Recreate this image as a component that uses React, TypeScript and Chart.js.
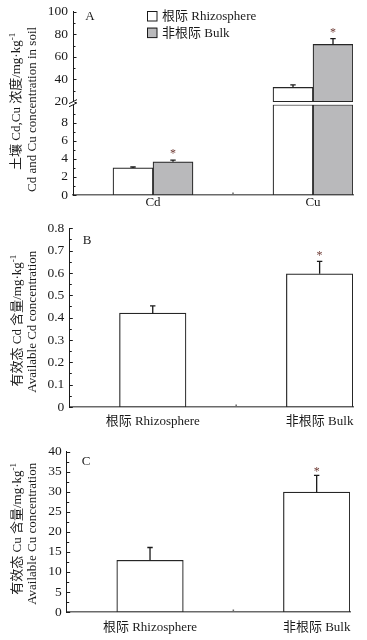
import React, { useEffect, useRef } from 'react';
import { Chart, registerables } from 'chart.js';

Chart.register(...registerables);

const FONT = '"Liberation Serif", "Noto Sans CJK SC", serif';
const INK = '#1a1a1a';
const AXIS_X = '#6a6a6a';
const RHIZO_FILL = '#ffffff';
const BULK_FILL = '#b9b9bb';
const BAR_EDGE = '#262626';
const STAR = '#6e3a34';

// ---------- Panel A: soil Cd, Cu concentration ----------
const groupsA = ['Cd', 'Cu'];
const seriesNames = ['根际 Rhizosphere', '非根际 Bulk'];
const rhizoA = [3.0, 32.8];
const rhizoErrA = [0.1, 2.2];
const rhizoSigA = [false, false];
const bulkA = [3.67, 71.0];
const bulkErrA = [0.2, 5.2];
const bulkSigA = [true, true];
const ticksALow = [0, 2, 4, 6, 8];
const minorALow = [1, 3, 5, 7, 9];
const ticksAHigh = [20, 40, 60, 80, 100];
const minorAHigh = [30, 50, 70, 90];
const breakLowMax = 10;
const breakHighStart = 20;
const titleA = ['土壤 Cd,Cu 浓度/mg·kg^{-1}', 'Cd and Cu concentration in soil'];

// ---------- Panel B: available Cd ----------
const categoriesB = ['根际 Rhizosphere', '非根际 Bulk'];
const availCd = [0.42, 0.596];
const availCdErr = [0.033, 0.056];
const availCdSig = [false, true];
const ticksB = [0, 0.1, 0.2, 0.3, 0.4, 0.5, 0.6, 0.7, 0.8];
const minorB = [0.05, 0.15, 0.25, 0.35, 0.45, 0.55, 0.65, 0.75];
const titleB = ['有效态 Cd 含量/mg·kg^{-1}', 'Available Cd concentration'];

// ---------- Panel C: available Cu ----------
const categoriesC = ['根际 Rhizosphere', '非根际 Bulk'];
const availCu = [12.9, 29.9];
const availCuErr = [3.2, 4.2];
const availCuSig = [false, true];
const ticksC = [0, 5, 10, 15, 20, 25, 30, 35, 40];
const minorC = [2.5, 7.5, 12.5, 17.5, 22.5, 27.5, 32.5, 37.5];
const titleC = ['有效态 Cu 含量/mg·kg^{-1}', 'Available Cu concentration'];

const font = (size: number) => ({ family: FONT, size, lineHeight: 1 });

// error bars (upper half only) + significance stars
const errorPlugin = {
  id: 'errs',
  afterDatasetsDraw(chart: any, _args: any, opts: any) {
    const ctx = chart.ctx;
    chart.data.datasets.forEach((ds: any, di: number) => {
      if (!ds.tops) return;
      const meta = chart.getDatasetMeta(di);
      const ys = chart.scales[meta.yAxisID];
      meta.data.forEach((el: any, i: number) => {
        const v = ds.tops[i];
        const d = ds.data[i];
        if (v == null || d == null || d.y == null) return;
        if (v > ys.max || v < ys.min) return;
        const x = el.x;
        const y0 = ys.getPixelForValue(v);
        const y1 = ys.getPixelForValue(v + ds.errs[i]);
        ctx.save();
        ctx.strokeStyle = INK;
        ctx.lineWidth = 1.3;
        ctx.beginPath();
        ctx.moveTo(x, y0);
        ctx.lineTo(x, y1);
        ctx.moveTo(x - 2.7, y1);
        ctx.lineTo(x + 2.7, y1);
        ctx.stroke();
        if (ds.sig && ds.sig[i]) {
          ctx.fillStyle = STAR;
          ctx.font = `12px ${FONT}`;
          ctx.textAlign = 'center';
          ctx.textBaseline = 'alphabetic';
          ctx.fillText('*', x, y1 - (opts.starGap ?? 2));
        }
        ctx.restore();
      });
    });
  },
};

function drawRich(ctx: CanvasRenderingContext2D, text: string, size: number) {
  const parts: { t: string; sup: boolean }[] = [];
  const re = /\^\{([^}]*)\}/g;
  let last = 0;
  let m: RegExpExecArray | null;
  while ((m = re.exec(text))) {
    if (m.index > last) parts.push({ t: text.slice(last, m.index), sup: false });
    parts.push({ t: m[1], sup: true });
    last = m.index + m[0].length;
  }
  if (last < text.length) parts.push({ t: text.slice(last), sup: false });
  const supSize = Math.round(size * 0.7);
  let total = 0;
  const widths = parts.map((p) => {
    ctx.font = `${p.sup ? supSize : size}px ${FONT}`;
    const w = ctx.measureText(p.t).width;
    total += w;
    return w;
  });
  let x = -total / 2;
  parts.forEach((p, i) => {
    ctx.font = `${p.sup ? supSize : size}px ${FONT}`;
    ctx.fillText(p.t, x, p.sup ? -size * 0.35 : 0);
    x += widths[i];
  });
}

const decorPlugin = {
  id: 'decor',
  afterDraw(chart: any, _args: any, o: any) {
    const ctx = chart.ctx;
    const area = chart.chartArea;
    ctx.save();
    ctx.strokeStyle = INK;
    ctx.lineWidth = 1;
    // inward y ticks
    (o.yTicks || []).forEach((t: any) => {
      const s = chart.scales[t.id];
      const x = s.right;
      ctx.beginPath();
      t.major.forEach((v: number) => {
        const y = Math.round(s.getPixelForValue(v)) + 0.5;
        ctx.moveTo(x, y);
        ctx.lineTo(x + 3.5, y);
      });
      t.minor.forEach((v: number) => {
        const y = Math.round(s.getPixelForValue(v)) + 0.5;
        ctx.moveTo(x, y);
        ctx.lineTo(x + 2.5, y);
      });
      ctx.stroke();
    });
    // small x marks
    if (o.xMarks) {
      const xs = chart.scales.x;
      ctx.strokeStyle = AXIS_X;
      ctx.lineWidth = 1.5;
      ctx.beginPath();
      o.xMarks.forEach((v: number) => {
        const x = xs.getPixelForValue(v);
        ctx.moveTo(x, area.bottom);
        ctx.lineTo(x, area.bottom - 2.5);
      });
      ctx.stroke();
    }
    // axis break
    if (o.breakAxes) {
      const lo = chart.scales[o.breakAxes.low];
      const hi = chart.scales[o.breakAxes.high];
      const x = lo.right;
      const y = (lo.top + hi.getPixelForValue(o.breakAxes.at)) / 2;
      ctx.fillStyle = '#ffffff';
      ctx.fillRect(x - 1.5, y - 1.5, 3, 3);
      ctx.strokeStyle = INK;
      ctx.lineWidth = 1;
      ctx.beginPath();
      [-1.6, 1.6].forEach((d) => {
        ctx.moveTo(x - 4, y + d + 2);
        ctx.lineTo(x + 4, y + d - 2);
      });
      ctx.stroke();
    }
    // y titles (rotated)
    ctx.fillStyle = INK;
    ctx.textBaseline = 'middle';
    ctx.textAlign = 'left';
    const cy = (area.top + area.bottom) / 2;
    (o.titles || []).forEach((t: any) => {
      ctx.save();
      ctx.translate(t.x, cy + t.dy);
      ctx.rotate(-Math.PI / 2);
      drawRich(ctx, t.text, o.titleSize || 13);
      ctx.restore();
    });
    // panel letter
    if (o.letter) {
      ctx.font = `13px ${FONT}`;
      ctx.textAlign = 'center';
      ctx.textBaseline = 'middle';
      ctx.fillText(o.letter.text, o.letter.x, o.letter.y);
    }
    // legend
    if (o.legend) {
      const L = o.legend;
      L.items.forEach((it: any, i: number) => {
        const y = L.y + i * L.gap;
        ctx.fillStyle = it.color;
        ctx.fillRect(L.x, y - 5, 10, 10);
        ctx.strokeStyle = INK;
        ctx.lineWidth = 1;
        ctx.strokeRect(L.x + 0.5, y - 4.5, 9.5, 9.5);
        ctx.fillStyle = INK;
        ctx.font = `13px ${FONT}`;
        ctx.textAlign = 'left';
        ctx.textBaseline = 'middle';
        ctx.fillText(it.label, L.x + 15, y + 0.5);
      });
    }
    ctx.restore();
  },
};

const barStyle = (fill: string) => ({
  backgroundColor: fill,
  borderColor: BAR_EDGE,
  borderWidth: 1.2,
  borderSkipped: false,
});

const yScaleBase = (width: number) => ({
  type: 'linear',
  position: 'left',
  stacked: false,
  grid: { display: false, drawTicks: false },
  border: { color: INK, width: 1 },
  ticks: { font: font(13.5), color: INK, padding: 5, autoSkip: false },
  afterFit: (s: any) => {
    s.width = width;
  },
});

const xScale = (labels: string[], max: number, pad: number, height: number) => ({
  type: 'linear',
  min: 0.5,
  max,
  offset: false,
  grid: { display: false, drawTicks: false },
  border: { color: AXIS_X, width: 1.5 },
  afterBuildTicks: (s: any) => {
    s.ticks = labels.map((_, i) => ({ value: i + 1 }));
  },
  ticks: {
    font: font(13),
    color: INK,
    padding: pad,
    autoSkip: false,
    maxRotation: 0,
    callback: (v: number) => labels[v - 1] ?? '',
  },
  afterFit: (s: any) => {
    s.height = height;
  },
});

function configA(): any {
  const low = (vals: number[]) => vals.map((v, i) => ({ x: i + 1, y: [0, Math.min(v, breakLowMax)] }));
  const high = (vals: number[]) =>
    vals.map((v, i) => ({ x: i + 1, y: v > breakHighStart ? [breakHighStart, v] : null }));
  return {
    type: 'bar',
    data: {
      datasets: [
        { label: seriesNames[0], yAxisID: 'yLow', stack: 'r', data: low(rhizoA), tops: rhizoA, errs: rhizoErrA, sig: rhizoSigA, ...barStyle(RHIZO_FILL) },
        { label: seriesNames[1], yAxisID: 'yLow', stack: 'b', data: low(bulkA), tops: bulkA, errs: bulkErrA, sig: bulkSigA, ...barStyle(BULK_FILL) },
        { label: seriesNames[0], yAxisID: 'yHigh', stack: 'r', data: high(rhizoA), tops: rhizoA, errs: rhizoErrA, sig: rhizoSigA, ...barStyle(RHIZO_FILL) },
        { label: seriesNames[1], yAxisID: 'yHigh', stack: 'b', data: high(bulkA), tops: bulkA, errs: bulkErrA, sig: bulkSigA, ...barStyle(BULK_FILL) },
      ],
    },
    options: {
      responsive: false,
      animation: false,
      barThickness: 40,
      layout: { padding: { top: 6, left: 0, right: 14, bottom: 1 } },
      plugins: {
        legend: { display: false },
        tooltip: { enabled: false },
        errs: { starGap: 3 },
        decor: {
          titles: [
            { text: titleA[0], x: 17, dy: -2 },
            { text: titleA[1], x: 33, dy: 6 },
          ],
          letter: { text: 'A', x: 90, y: 17 },
          yTicks: [
            { id: 'yHigh', major: ticksAHigh, minor: minorAHigh },
            { id: 'yLow', major: ticksALow, minor: minorALow },
          ],
          xMarks: [1.5],
          breakAxes: { low: 'yLow', high: 'yHigh', at: breakHighStart },
          legend: {
            x: 147,
            y: 16,
            gap: 16.6,
            items: [
              { label: seriesNames[0], color: RHIZO_FILL },
              { label: seriesNames[1], color: BULK_FILL },
            ],
          },
        },
      },
      scales: {
        x: xScale(groupsA, 2.25, 1, 16),
        yLow: {
          ...yScaleBase(73),
          stack: 'A',
          stackWeight: 93.3,
          min: 0,
          max: breakLowMax,
          afterBuildTicks: (s: any) => {
            s.ticks = ticksALow.map((v) => ({ value: v }));
          },
        },
        yHigh: {
          ...yScaleBase(73),
          stack: 'A',
          stackWeight: 96,
          min: 17.4,
          max: 100,
          afterBuildTicks: (s: any) => {
            s.ticks = ticksAHigh.map((v) => ({ value: v }));
          },
        },
      },
    },
    plugins: [errorPlugin, decorPlugin],
  };
}

function configSingle(p: {
  cats: string[];
  vals: number[];
  errs: number[];
  sig: boolean[];
  ticks: number[];
  minor: number[];
  min: number;
  max: number;
  title: string[];
  letter: { text: string; x: number; y: number };
  yWidth: number;
  padTop: number;
  padRight: number;
  xPad: number;
  xHeight: number;
  titleDy: number[];
  starGap: number;
}): any {
  return {
    type: 'bar',
    data: {
      datasets: [
        {
          label: 'value',
          yAxisID: 'y',
          data: p.vals.map((v, i) => ({ x: i + 1, y: v })),
          tops: p.vals,
          errs: p.errs,
          sig: p.sig,
          ...barStyle(RHIZO_FILL),
        },
      ],
    },
    options: {
      responsive: false,
      animation: false,
      barThickness: 66.5,
      layout: { padding: { top: p.padTop, left: 0, right: p.padRight, bottom: 0 } },
      plugins: {
        legend: { display: false },
        tooltip: { enabled: false },
        errs: { starGap: p.starGap },
        decor: {
          titles: [
            { text: p.title[0], x: 18, dy: p.titleDy[0] },
            { text: p.title[1], x: 33, dy: p.titleDy[1] },
          ],
          letter: p.letter,
          yTicks: [{ id: 'y', major: p.ticks, minor: p.minor }],
          xMarks: [1.5],
        },
      },
      scales: {
        x: xScale(p.cats, 2.2, p.xPad, p.xHeight),
        y: {
          ...yScaleBase(p.yWidth),
          min: p.min,
          max: p.max,
          afterBuildTicks: (s: any) => {
            s.ticks = p.ticks.map((v) => ({ value: v }));
          },
          ticks: {
            font: font(13.5),
            color: INK,
            padding: 5,
            autoSkip: false,
            callback: (v: number) => String(+v.toFixed(2)),
          },
        },
      },
    },
    plugins: [errorPlugin, decorPlugin],
  };
}

function ChartBox({ top, height, make }: { top: number; height: number; make: () => any }) {
  const ref = useRef<HTMLCanvasElement | null>(null);
  useEffect(() => {
    if (!ref.current) return;
    const chart = new Chart(ref.current, make());
    return () => chart.destroy();
  }, []);
  return (
    <canvas
      ref={ref}
      width={367}
      height={height}
      style={{ position: 'absolute', left: 0, top, width: 367, height }}
    />
  );
}

export default function App() {
  return (
    <div style={{ position: 'absolute', left: 0, top: 0, width: 367, height: 640, background: '#fff' }}>
      <ChartBox top={0} height={212} make={configA} />
      <ChartBox
        top={212}
        height={218}
        make={() =>
          configSingle({
            cats: categoriesB,
            vals: availCd,
            errs: availCdErr,
            sig: availCdSig,
            ticks: ticksB,
            minor: minorB,
            min: 0,
            max: 0.8,
            title: titleB,
            letter: { text: 'B', x: 87, y: 28.7 },
            yWidth: 69.3,
            padTop: 16.3,
            padRight: 14,
            xPad: 8.5,
            xHeight: 23,
            titleDy: [3, 4],
            starGap: 2,
          })
        }
      />
      <ChartBox
        top={430}
        height={210}
        make={() =>
          configSingle({
            cats: categoriesC,
            vals: availCu,
            errs: availCuErr,
            sig: availCuSig,
            ticks: ticksC,
            minor: minorC,
            min: 0,
            max: 40,
            title: titleC,
            letter: { text: 'C', x: 86, y: 31.7 },
            yWidth: 66.7,
            padTop: 21.7,
            padRight: 17,
            xPad: 8.8,
            xHeight: 28,
            titleDy: [-3, 2],
            starGap: 0.5,
          })
        }
      />
    </div>
  );
}
